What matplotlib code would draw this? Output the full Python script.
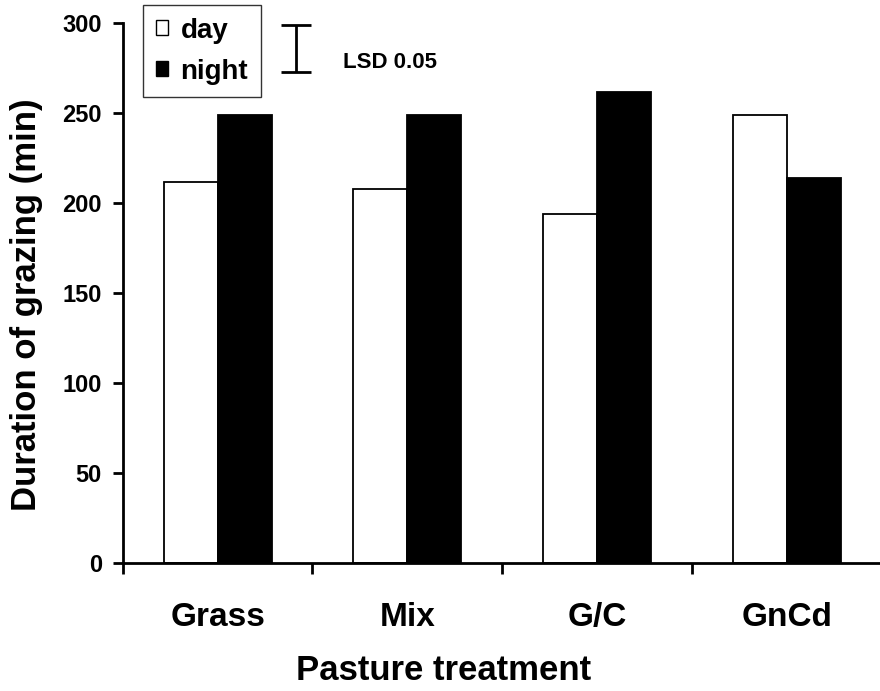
import matplotlib

matplotlib.use("Agg")
import matplotlib.pyplot as plt
import numpy as np
from matplotlib.patches import Patch

treatments = ["Grass", "Mix", "G/C", "GnCd"]
day_minutes = [212, 208, 194, 249]
night_minutes = [249, 249, 262, 214]
series_names = ["day", "night"]
lsd_value = 26
lsd_top = 299
y_ticks = [0, 50, 100, 150, 200, 250, 300]

plt.rcParams["font.family"] = ["Liberation Sans", "DejaVu Sans"]
plt.rcParams["font.weight"] = "bold"

fig = plt.figure(figsize=(8.8, 6.91), dpi=100)
ax = fig.add_axes([0.1394, 0.1848, 0.8628, 0.7815])

centers = np.arange(len(treatments)) + 0.5
bar_width = 0.2845
ax.bar(centers - bar_width / 2, day_minutes, bar_width, color="white",
       edgecolor="black", linewidth=1.3, zorder=2)
ax.bar(centers + bar_width / 2, night_minutes, bar_width, color="black",
       edgecolor="black", linewidth=1.3, zorder=2)

ax.set_xlim(0, len(treatments))
ax.set_ylim(0, 300)
ax.spines[["top", "right"]].set_visible(False)
ax.spines[["left", "bottom"]].set_linewidth(2)
ax.spines["bottom"].set_zorder(3)

ax.set_yticks(y_ticks)
ax.tick_params(axis="y", length=7, width=2, pad=8, labelsize=17)
ax.set_xticks(np.arange(len(treatments) + 1))
ax.set_xticklabels([])
ax.set_xticks(centers, minor=True)
ax.set_xticklabels(treatments, minor=True)
ax.tick_params(axis="x", which="major", length=8, width=2)
ax.tick_params(axis="x", which="minor", length=0, pad=28, labelsize=24)

ax.set_xlabel("Pasture treatment", fontsize=25, fontweight="bold", va="center")
ax.xaxis.set_label_coords(0.422, -0.198)
ax.set_ylabel("Duration of grazing (min)", fontsize=25, fontweight="bold", va="center")
ax.yaxis.set_label_coords(-0.127, 0.478)

# LSD bar
lsd_x = 0.911
ax.errorbar([lsd_x], [lsd_top - lsd_value / 2], yerr=[lsd_value / 2], color="black",
            capsize=11, elinewidth=2, capthick=2, clip_on=False, zorder=4)
ax.text(lsd_x + 0.25, lsd_top - lsd_value * 0.8, "LSD 0.05", fontsize=16,
        fontweight="bold", va="center", ha="left")

handles = [Patch(facecolor="white", edgecolor="black", linewidth=1),
           Patch(facecolor="black", edgecolor="black", linewidth=1)]
leg = fig.legend(handles, series_names, loc="upper left",
                 bbox_to_anchor=(143 / 880, 1 - 5 / 691), fontsize=20,
                 handlelength=0.45, handleheight=0.45, handletextpad=0.45,
                 labelspacing=0.55, borderpad=0.45, borderaxespad=0,
                 fancybox=False, framealpha=1)
leg.get_frame().set_edgecolor("#333333")
leg.get_frame().set_linewidth(1)
for text in leg.get_texts():
    text.set_fontweight("bold")

fig.savefig("out.png", dpi=100)
